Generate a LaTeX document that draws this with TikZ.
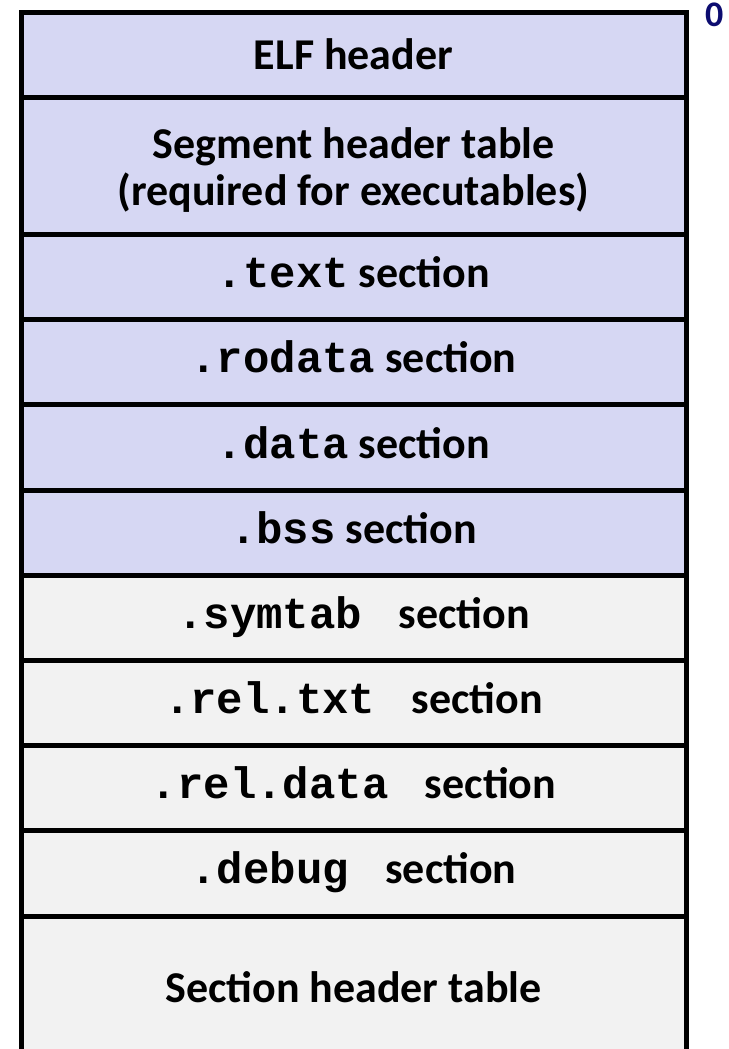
\documentclass[tikz,border=0pt]{standalone}
\usepackage{fontspec}
\setmainfont{Carlito}
\setmonofont{Liberation Mono}
\definecolor{secblue}{HTML}{D6D7F3}
\definecolor{secgray}{HTML}{F2F2F2}
\definecolor{navy}{HTML}{0C0C70}
\newcommand{\mono}[1]{{\ttfamily\bfseries #1}}
\begin{document}
\begin{tikzpicture}[x=1pt,y=-1pt,
  row/.style={draw=black, line width=5pt, minimum width=665pt, minimum height=85.2pt,
    inner sep=0pt, outer sep=0pt,
    font=\fontsize{44}{47}\selectfont\bfseries},
  lowline/.style={text height=21pt, text depth=0pt},
  capline/.style={text height=30pt, text depth=0pt},
  bluerow/.style={row, fill=secblue},
  grayrow/.style={row, fill=secgray}]
\useasboundingbox (0,0) rectangle (728,1049);
\clip (0,0) rectangle (728,1049);
\node[bluerow, capline, minimum height=85pt] (elf) at (353.5,55) {ELF header};
\node[bluerow, minimum height=137pt, align=center] (seg) at (353.5,166) {\rule{0pt}{39pt}Segment header table\\(required for executables)};
\node[bluerow, lowline] (text) at (353.5,277.1) {\mono{.text} section};
\node[bluerow, lowline] (rodata) at (353.5,362.3) {\mono{.rodata} section};
\node[bluerow, lowline] (data) at (353.5,447.5) {\mono{.data} section};
\node[bluerow, lowline] (bss) at (353.5,532.7) {\mono{.bss} section};
\node[grayrow, lowline] (symtab) at (353.5,617.9) {\mono{.symtab } section};
\node[grayrow, lowline] (reltxt) at (353.5,703.0) {\mono{.rel.txt } section};
\node[grayrow, lowline] (reldata) at (353.5,788.2) {\mono{.rel.data } section};
\node[grayrow, lowline] (debug) at (353.5,873.4) {\mono{.debug } section};
\node[grayrow, capline, minimum height=142pt] (sht) at (353.5,987) {Section header table};
\node[font=\fontsize{36}{36}\selectfont\bfseries, text=navy, anchor=base west, inner sep=0pt] (zero) at (705,27) {0};
\end{tikzpicture}
\end{document}
